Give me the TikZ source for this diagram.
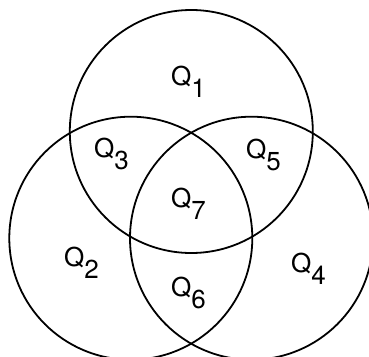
\documentclass[tikz,border=0pt]{standalone}
\usepackage{fontspec}
\setmainfont{TeX Gyre Heros}
\begin{document}
\begin{tikzpicture}[x=1pt,y=-1pt,
  setc/.style={circle, draw=black, line width=1.8pt, minimum size=243pt, inner sep=0pt},
  lab/.style={anchor=base west, inner sep=0pt, font=\fontsize{26}{30}\selectfont}]
\useasboundingbox (0,0) rectangle (369,356);
\clip (0,0) rectangle (369,356);
\node[setc] (top) at (191.3,131.5) {};
\node[setc] (left) at (130.8,238.2) {};
\node[setc] (right) at (251.5,238.2) {};
\newcommand{\qlab}[1]{Q\raisebox{-0.47em}{#1}}
\node[lab] (q1) at (171,85) {\qlab{1}};
\node[lab] (q3) at (94,157) {\qlab{3}};
\node[lab] (q5) at (246,158) {\qlab{5}};
\node[lab] (q7) at (171,207) {\qlab{7}};
\node[lab] (q2) at (64,266) {\qlab{2}};
\node[lab] (q6) at (171,296) {\qlab{6}};
\node[lab] (q4) at (291,272) {\qlab{4}};
\end{tikzpicture}
\end{document}
